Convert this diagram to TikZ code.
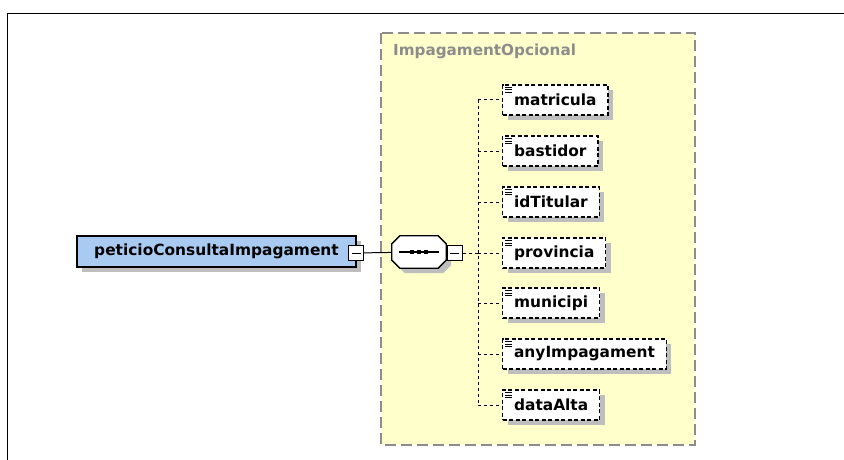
\documentclass[tikz,border=0pt]{standalone}
\usepackage{fontspec}
\setmainfont{DejaVu Sans}
\usetikzlibrary{shadows}

\definecolor{elemblue}{RGB}{169,203,242}
\definecolor{grpyellow}{RGB}{255,255,204}
\definecolor{grpgray}{RGB}{140,140,140}
\definecolor{shadowgray}{RGB}{190,190,190}

\tikzset{
  boxshadow/.style={drop shadow={shadow xshift=5pt,shadow yshift=-5pt,fill=shadowgray,opacity=1}},
  mainelem/.style={draw,line width=1.3,fill=elemblue,boxshadow,minimum width=279,minimum height=31,
    font=\fontsize{15.4}{18}\selectfont\bfseries},
  subelem/.style={draw,line width=1.2,dash pattern=on 4pt off 2.5pt,fill=white,boxshadow,anchor=west,
    minimum height=30,inner xsep=11.5,font=\fontsize{15.4}{18}\selectfont\bfseries},
  minusbox/.style={draw,line width=1,fill=white,minimum size=15,inner sep=0,
    path picture={\draw[line width=1] ([xshift=3pt]path picture bounding box.west) -- ([xshift=-3pt]path picture bounding box.east);}},
  seqbox/.style={minimum width=54,minimum height=32,inner sep=0},
  seqline/.style={draw,line width=1.3,fill=white,boxshadow},
  grpbox/.style={draw=grpgray,line width=1.4,dash pattern=on 11pt off 5pt,fill=grpyellow},
  conn/.style={line width=1},
  dconn/.style={line width=1,dash pattern=on 3pt off 3pt}
}

\begin{document}
\begin{tikzpicture}[x=1pt,y=-1pt]

    \useasboundingbox (0,0) rectangle (844,460);
    \draw[line width=1] (7,460) |- (844,13.5); % Outline of frame

    % Group of optional elements
    \draw[grpbox] (381,33) rectangle (695,445);
    \node[anchor=west,inner sep=0,text=grpgray,font=\fontsize{15.2}{18}\selectfont\bfseries] (grplabel) at (393,51) {ImpagamentOpcional};

    % Root element and its sequence
    \node[mainelem] (peticio) at (216.5,251.5) {peticioConsultaImpagament};
    \node[minusbox] (peticiominus) at (356,253) {};
    \node[seqbox] (seq) at (419,252) {};
    \path[seqline] ([xshift=8]seq.north west) -- ([xshift=-8]seq.north east) -- ([yshift=-8]seq.north east)
        -- ([yshift=8]seq.south east) -- ([xshift=-8]seq.south east) -- ([xshift=8]seq.south west)
        -- ([yshift=8]seq.south west) -- ([yshift=-8]seq.north west) -- cycle; % Sequence octagon
    \node[minusbox] (seqminus) at (454.5,253) {};
    \draw[line width=1.2] ([xshift=-20]seq.center) -- ([xshift=20]seq.center); % Sequence mark
    \foreach \dx in {-7,0,7}
        \fill ([xshift=\dx-1.7,yshift=-1.7]seq.center) rectangle ++(3.4,-3.4);

    % Child elements
    \node[subelem] (matricula) at (502,100) {matricula};
    \node[subelem] (bastidor) at (502,151) {bastidor};
    \node[subelem] (idTitular) at (502,202) {idTitular};
    \node[subelem] (provincia) at (502,253) {provincia};
    \node[subelem] (municipi) at (502,303) {municipi};
    \node[subelem] (anyImpagament) at (502,354) {anyImpagament};
    \node[subelem] (dataAlta) at (502,405) {dataAlta};

    % Connectors
    \coordinate (branch) at (478,253);
    \draw[conn] (peticiominus) -- (seq);
    \draw[dconn] (seqminus) -- (branch);
    \draw[dconn] (branch |- matricula) -- (branch |- dataAlta);
    \foreach \n in {matricula,bastidor,idTitular,provincia,municipi,anyImpagament,dataAlta} {
        \draw[dconn] (branch |- \n) -- (\n);
        \foreach \dy in {3,5.5,8}
            \draw[line width=0.8] ([xshift=3,yshift=-\dy]\n.north west) -- +(7,0); % Element icon
    }

\end{tikzpicture}
\end{document}
